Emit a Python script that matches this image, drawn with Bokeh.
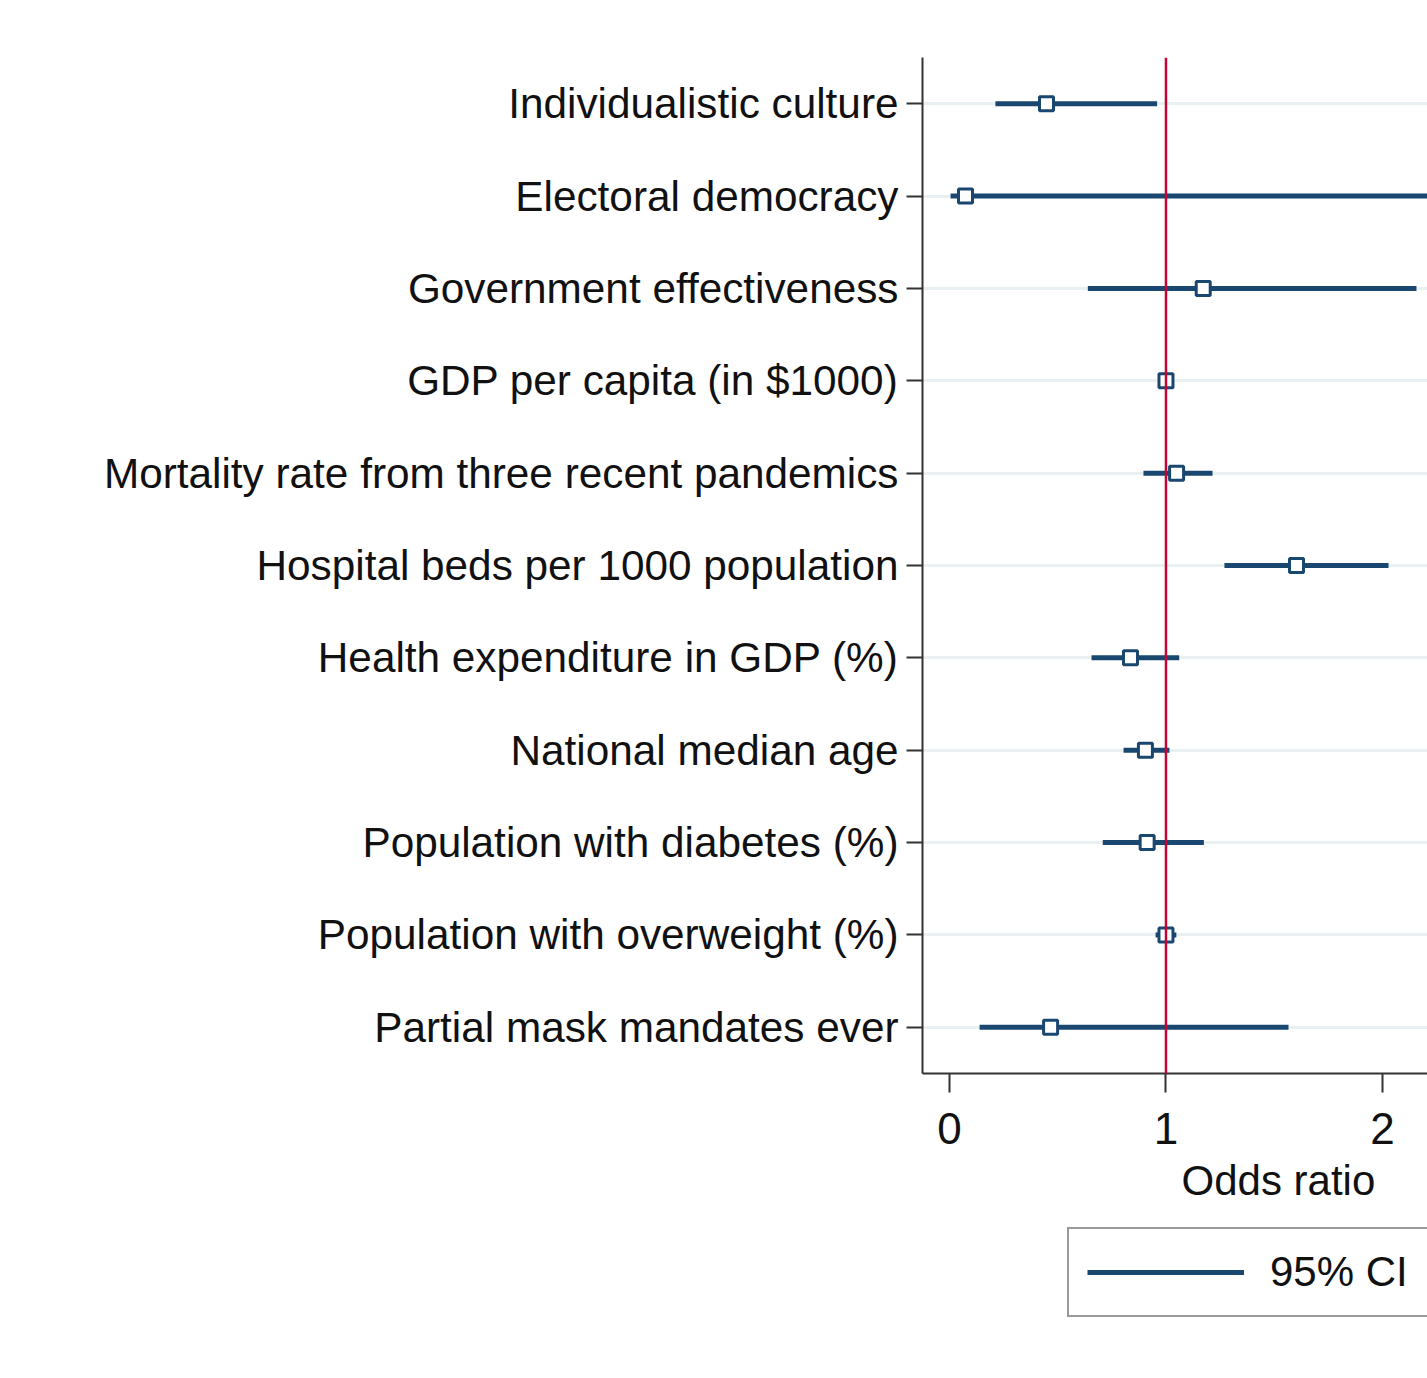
from bokeh.plotting import figure
from bokeh.layouts import column
from bokeh.models import (FactorRange, Range1d, FixedTicker, Span, Title,
                          Legend, LegendItem, ColumnDataSource)
from bokeh.core.properties import value
from bokeh.embed import file_html
from bokeh.resources import INLINE

# Predictors, top to bottom
predictors = [
    "Individualistic culture",
    "Electoral democracy",
    "Government effectiveness",
    "GDP per capita (in $1000)",
    "Mortality rate from three recent pandemics",
    "Hospital beds per 1000 population",
    "Health expenditure in GDP (%)",
    "National median age",
    "Population with diabetes (%)",
    "Population with overweight (%)",
    "Partial mask mandates ever",
]
odds_ratio = [0.448, 0.074, 1.172, 1.000, 1.049, 1.603, 0.836, 0.905, 0.913, 1.000, 0.467]
ci_low = [0.212, 0.005, 0.639, 0.985, 0.896, 1.270, 0.656, 0.804, 0.708, 0.952, 0.139]
ci_high = [0.959, 2.700, 2.157, 1.015, 1.215, 2.028, 1.061, 1.016, 1.175, 1.048, 1.566]
x_ticks = [0, 1, 2]
x_title = "Odds ratio"
ci_label = "95% CI"

NAVY = "#1a476f"
RED = "#c10534"
INK = "#111111"
FONT = "Liberation Sans"
X_START, X_END = -0.1247, 2.208

src = ColumnDataSource(dict(name=predictors, est=odds_ratio, lo=ci_low, hi=ci_high))

p = figure(width=1427, height=1156, output_backend="svg", toolbar_location=None,
           y_range=FactorRange(factors=list(reversed(predictors))),
           x_range=Range1d(X_START, X_END),
           min_border_left=922, min_border_right=0, min_border_top=57,
           min_border_bottom=83)
p.outline_line_color = None
p.background_fill_color = "white"
p.border_fill_color = "white"

# grid
p.xgrid.grid_line_color = None
p.ygrid.grid_line_color = "#e9f0f2"
p.ygrid.grid_line_width = 3

# reference line at OR = 1
p.add_layout(Span(location=1, dimension="height", line_color=RED, line_width=2.5))

p.segment(x0="lo", x1="hi", y0="name", y1="name", source=src,
          line_color=NAVY, line_width=5)
p.scatter(x="est", y="name", source=src, marker="square", size=14,
          fill_color="white", line_color=NAVY, line_width=3)

# axes
for ax in (p.xaxis[0], p.yaxis[0]):
    ax.axis_line_color = "#333333"
    ax.axis_line_width = 2
    ax.major_tick_line_color = "#333333"
    ax.major_tick_line_width = 2
    ax.major_tick_in = 0
    ax.minor_tick_line_color = None
    ax.major_label_text_font = FONT
    ax.major_label_text_color = INK

p.yaxis.major_label_text_font_size = "42.3px"
p.yaxis.major_tick_out = 16
p.yaxis.major_label_standoff = 8
p.xaxis.major_label_text_font_size = "44px"
p.xaxis.major_tick_out = 19
p.xaxis.major_label_standoff = 20
p.xaxis.ticker = FixedTicker(ticks=x_ticks)

# lower panel: x-axis title and legend box, sharing the x scale
q = figure(width=1427, height=222, output_backend="svg", toolbar_location=None,
           x_range=p.x_range, y_range=Range1d(0, 160),
           min_border_left=922, min_border_right=0, min_border_top=0,
           min_border_bottom=0)
q.axis.visible = False
q.grid.visible = False
q.outline_line_color = None
q.background_fill_color = "white"
q.border_fill_color = "white"
q.add_layout(Title(text=x_title, align="left", offset=259, standoff=-4,
                   text_font=FONT, text_font_size="42px", text_font_style="normal",
                   text_color=INK), "above")

# legend key: same CI segments, parked below this panel's visible range
ci_key = q.segment(x0="lo", x1="hi", y0=value(-1000), y1=value(-1000), source=src,
                   line_color=NAVY, line_width=5)
legend = Legend(items=[LegendItem(label=ci_label, renderers=[ci_key], index=0)],
                location=(145, 61), margin=0, padding=18,
                glyph_width=157, glyph_height=50, label_height=50,
                label_width=320, label_standoff=26,
                label_text_font=FONT, label_text_font_size="42px",
                label_text_color=INK,
                border_line_color="#333333", border_line_width=2,
                background_fill_color="white", background_fill_alpha=1)
q.add_layout(legend)

layout = column(p, q, spacing=0)
open("out.html", "w").write(file_html(layout, INLINE))
